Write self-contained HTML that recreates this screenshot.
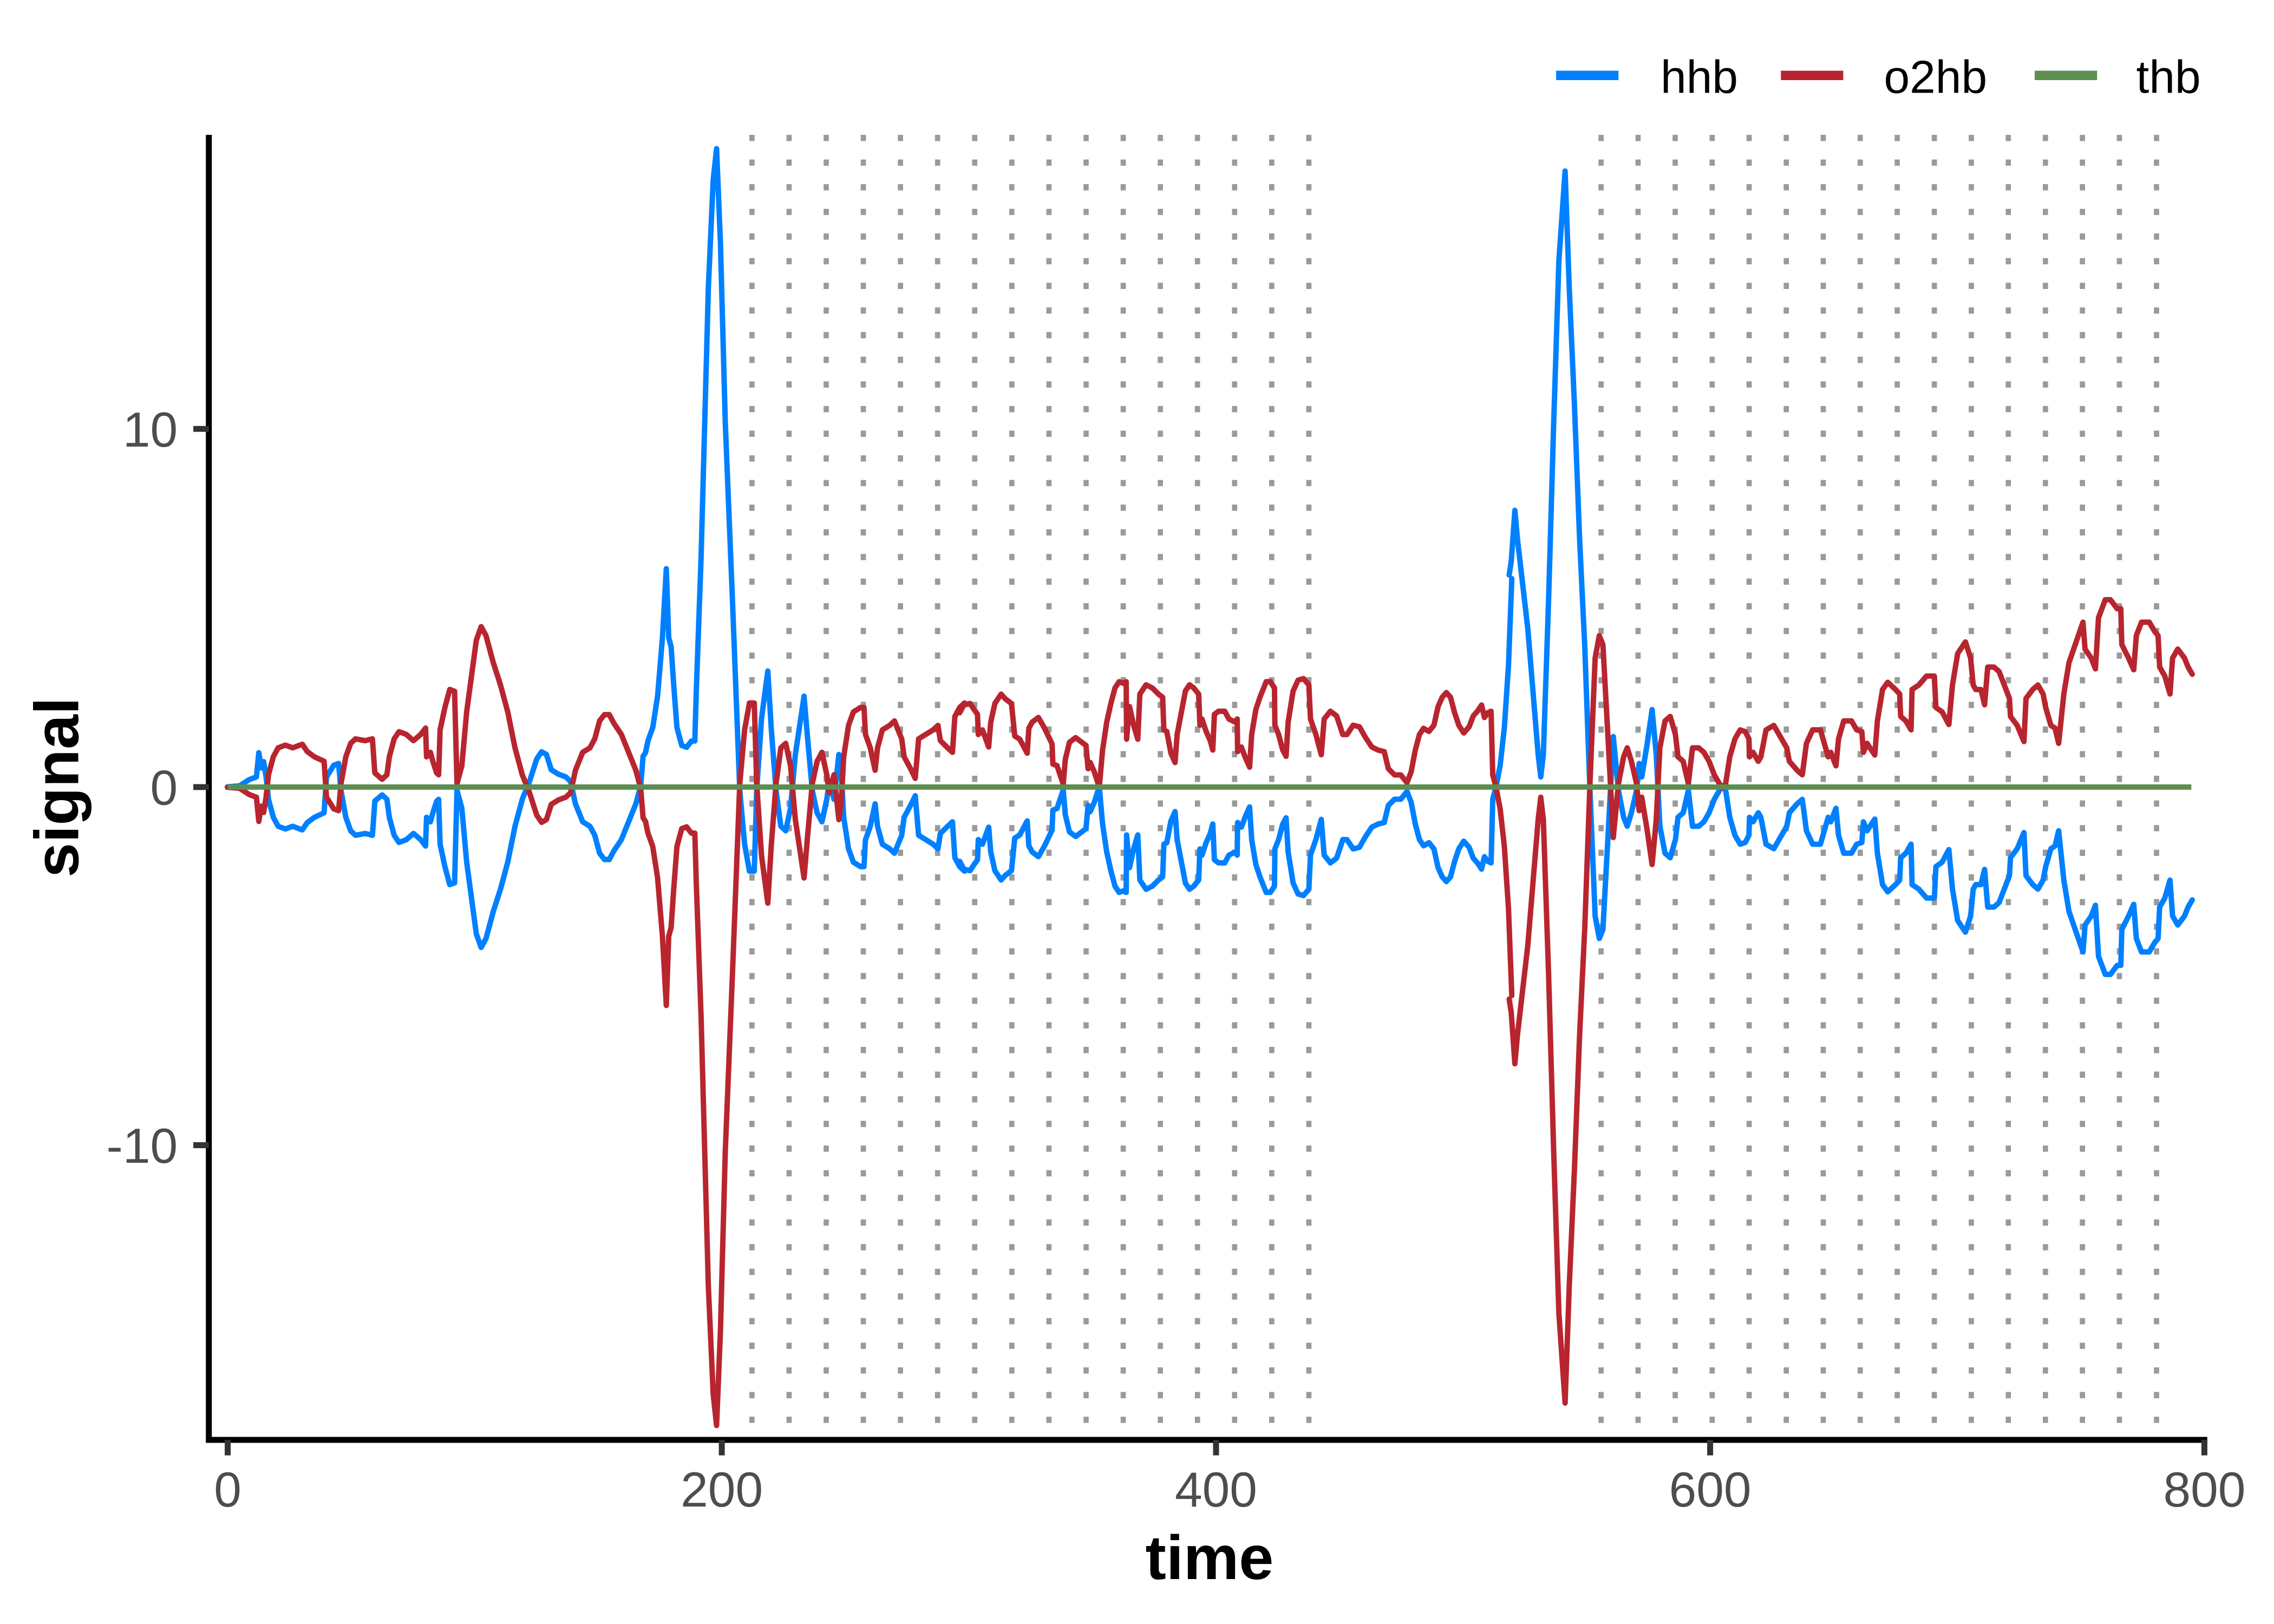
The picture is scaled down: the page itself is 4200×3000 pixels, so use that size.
<!DOCTYPE html>
<html><head><meta charset="utf-8"><style>
html,body{margin:0;padding:0;background:#fff;}
svg{display:block;}
text{font-family:"Liberation Sans",Arial,sans-serif;}
</style></head><body>
<svg xmlns="http://www.w3.org/2000/svg" xmlns:xlink="http://www.w3.org/1999/xlink" width="4200" height="3000" viewBox="0 0 1568 1120">
<rect width="1568" height="1120" fill="#fff"/>
<defs>
<g id="hhb" fill="none" stroke-linejoin="round" stroke-linecap="round">
<g transform="translate(141.8,74.65) scale(0.3333,0.619)">
<polyline vector-effect="non-scaling-stroke" points="45,756 70,755 90,748 105,745 110,718 115,735 120,728 125,745 130,770 140,790 150,800 165,803 180,800 200,804 210,796 225,790 245,785 250,745 265,732 275,730 280,760 290,790 300,805 310,810 330,808 345,810 350,772 365,765 375,770 380,790 390,810 400,818 415,815 430,808 445,815 455,822 457,790 465,795 470,785 478,772 482,770 485,820 495,845 505,865 515,863 520,760 530,780 540,840 550,880 560,920 570,935 580,925 595,895 610,870 625,840 640,800 655,770 670,750 685,725 695,717 705,720 715,737 730,742 745,745 755,750 765,775 780,795 795,800 805,810 815,830 825,837 835,837 845,827 860,815 875,795 890,775 900,755 905,722 910,718 915,705 925,690 935,655 945,590 953,513 958,590 963,600 968,640 975,690 985,710 995,712 1005,705 1012,705 1015,650 1025,500 1040,200 1050,80 1057,45 1065,150 1075,350 1090,550 1105,760 1115,820 1125,850 1135,850 1140,760 1150,680 1163,627 1170,690 1180,760 1190,800 1200,805 1210,780 1220,720 1238,655 1245,700 1255,760 1265,785 1275,795 1285,770 1290,750 1300,770 1310,720 1315,740 1320,790 1330,825 1340,840 1355,845 1362,845 1365,815 1375,800 1385,775 1390,800 1400,820 1415,825 1425,830 1440,810 1445,790 1460,775 1468,766 1475,810 1490,815 1505,820 1515,825 1520,808 1535,800 1545,795 1550,835 1560,845 1570,850"/>
</g>
<g transform="translate(634.6,373.3) scale(0.2856,0.2143)">
<polyline vector-effect="non-scaling-stroke" points="95,1030 105,1055 120,1060 130,1040 138,1025 140,960 150,975 165,920 170,1000 180,1060 195,1090 205,1075 220,1060 228,955 240,945 258,900 262,980 270,1000 285,1015 300,980 318,930 320,865 330,860 345,800 350,880 360,935 375,950 390,935 400,925 405,850 410,870 420,840 432,790 440,910 450,1000 460,1060 470,1110 480,1130 490,1125 497,1130 498,945 505,1050 515,990 525,945 530,1090 545,1120 560,1110 575,1090 585,1080 588,975 595,970 605,900 615,870 620,960 630,1030 640,1100 650,1120 660,1110 672,1090 675,990 680,1010 690,970 700,940 706,910 710,1025 720,1035 735,1035 745,1010 760,1000 765,1010 766,905 775,920 785,885 795,855 800,960 810,1040 820,1080 835,1130 845,1130 855,1110 856,990 865,960 875,910 883,890 888,1000 900,1100 912,1135 925,1140 938,1120 942,1010 955,960 968,895 975,1010 990,1035 1005,1020 1020,960 1030,960 1045,990 1060,985 1075,950 1090,920 1105,910 1120,905 1130,850 1145,830 1160,830 1175,805 1185,840 1195,910 1205,960 1215,980 1228,970 1240,990 1250,1050 1260,1080 1270,1095 1280,1080 1290,1030 1300,990 1312,965 1325,985 1335,1020 1345,1035 1355,1055 1362,1015 1370,1030 1378,1035 1382,830 1390,790 1400,720 1410,600 1420,400 1428,120"/>
</g>
<g transform="translate(989.2,74.65) scale(0.3571,0.619)">
<polyline vector-effect="non-scaling-stroke" points="144,520 148,505 155,448 160,480 170,530 180,580 190,650 200,720 205,745 210,720 220,550 230,350 240,170 252,70 260,200 270,330 280,480 290,600 300,760 310,900 318,925 325,915 335,810 345,700 355,760 365,790 372,800 380,785 390,760 395,730 400,745 410,710 420,670 428,720 435,800 445,830 455,835 465,815 470,790 480,785 490,760 498,800 510,800 520,795 530,785 540,770 555,755 562,760 570,790 580,810 590,820 600,818 607,810 608,790 615,795 625,785 630,790 640,820 655,825 665,815 680,800 685,785 700,775 710,770 718,805 730,820 745,820 755,800 760,790 765,795 775,780 780,810 790,830 805,830 815,820 825,818 828,795 835,805 850,792 855,830 865,865 875,873 890,865 898,860 900,835 910,830 920,820 922,865 935,870 950,880 965,880 968,845 980,840 993,826 1000,870 1010,905 1025,918 1035,900 1040,870 1045,865 1055,865 1062,848 1068,890 1080,890 1090,885 1100,870 1110,855 1112,835 1125,825 1138,807 1142,855 1155,865 1165,870 1175,860 1180,845 1190,825 1198,822 1205,805 1215,860 1225,895 1240,920 1252,940 1256,910 1268,900 1276,888 1282,945 1295,965 1305,965 1318,955 1325,955 1327,915 1340,900 1350,887 1355,925 1365,940 1380,940 1390,930 1397,925 1400,890 1410,880 1420,860 1425,900 1435,910 1448,900 1455,890 1463,882"/>
</g>
</g>
</defs>
<g stroke="#9a9a9a" stroke-width="3.6" stroke-dasharray="4.3 12.7">
<line x1="518.5" y1="93" x2="518.5" y2="991"/><line x1="544.1" y1="93" x2="544.1" y2="991"/><line x1="569.7" y1="93" x2="569.7" y2="991"/><line x1="595.3" y1="93" x2="595.3" y2="991"/><line x1="620.9" y1="93" x2="620.9" y2="991"/><line x1="646.5" y1="93" x2="646.5" y2="991"/><line x1="672.1" y1="93" x2="672.1" y2="991"/><line x1="697.7" y1="93" x2="697.7" y2="991"/><line x1="723.3" y1="93" x2="723.3" y2="991"/><line x1="748.9" y1="93" x2="748.9" y2="991"/><line x1="774.5" y1="93" x2="774.5" y2="991"/><line x1="800.1" y1="93" x2="800.1" y2="991"/><line x1="825.7" y1="93" x2="825.7" y2="991"/><line x1="851.3" y1="93" x2="851.3" y2="991"/><line x1="876.9" y1="93" x2="876.9" y2="991"/><line x1="902.5" y1="93" x2="902.5" y2="991"/>
<line x1="1104" y1="93" x2="1104" y2="991"/><line x1="1129.5" y1="93" x2="1129.5" y2="991"/><line x1="1155.1" y1="93" x2="1155.1" y2="991"/><line x1="1180.6" y1="93" x2="1180.6" y2="991"/><line x1="1206.1" y1="93" x2="1206.1" y2="991"/><line x1="1231.7" y1="93" x2="1231.7" y2="991"/><line x1="1257.2" y1="93" x2="1257.2" y2="991"/><line x1="1282.7" y1="93" x2="1282.7" y2="991"/><line x1="1308.2" y1="93" x2="1308.2" y2="991"/><line x1="1333.8" y1="93" x2="1333.8" y2="991"/><line x1="1359.3" y1="93" x2="1359.3" y2="991"/><line x1="1384.8" y1="93" x2="1384.8" y2="991"/><line x1="1410.4" y1="93" x2="1410.4" y2="991"/><line x1="1435.9" y1="93" x2="1435.9" y2="991"/><line x1="1461.4" y1="93" x2="1461.4" y2="991"/><line x1="1487" y1="93" x2="1487" y2="991"/>
</g>
<use xlink:href="#hhb" stroke="#0080FF" stroke-width="10"/>
<use xlink:href="#hhb" stroke="#B8252F" stroke-width="10" transform="translate(0,1085.6) scale(1,-1)"/>
<line x1="157" y1="542.8" x2="1511" y2="542.8" stroke="#5B8E51" stroke-width="3.7"/>
<line x1="144" y1="93" x2="144" y2="995" stroke="#000" stroke-width="4.1"/>
<line x1="142" y1="993" x2="1522" y2="993" stroke="#000" stroke-width="4.1"/>
<g stroke="#333" stroke-width="4.1">
<line x1="133.3" y1="295.8" x2="144" y2="295.8"/><line x1="133.3" y1="542.8" x2="144" y2="542.8"/><line x1="133.3" y1="789.8" x2="144" y2="789.8"/>
<line x1="157" y1="993" x2="157" y2="1003.7"/><line x1="497.7" y1="993" x2="497.7" y2="1003.7"/><line x1="838.5" y1="993" x2="838.5" y2="1003.7"/><line x1="1179.2" y1="993" x2="1179.2" y2="1003.7"/><line x1="1520" y1="993" x2="1520" y2="1003.7"/>
</g>
<g fill="#4D4D4D" font-size="34">
<text x="122.5" y="308" text-anchor="end">10</text>
<text x="122.5" y="555" text-anchor="end">0</text>
<text x="122.5" y="802" text-anchor="end">-10</text>
<text x="157" y="1039" text-anchor="middle">0</text>
<text x="497.7" y="1039" text-anchor="middle">200</text>
<text x="838.5" y="1039" text-anchor="middle">400</text>
<text x="1179.2" y="1039" text-anchor="middle">600</text>
<text x="1520" y="1039" text-anchor="middle">800</text>
</g>
<text x="834" y="1089" text-anchor="middle" font-size="43" font-weight="bold" fill="#000">time</text>
<text transform="translate(54,543) rotate(-90)" text-anchor="middle" font-size="43" font-weight="bold" fill="#000">signal</text>
<g stroke-width="6.5">
<line x1="1073" y1="52" x2="1116" y2="52" stroke="#0080FF"/>
<line x1="1228" y1="52" x2="1271" y2="52" stroke="#B8252F"/>
<line x1="1403" y1="52" x2="1446" y2="52" stroke="#5B8E51"/>
</g>
<g font-size="32" fill="#000">
<text x="1145" y="64">hhb</text>
<text x="1299" y="64">o2hb</text>
<text x="1473" y="64">thb</text>
</g>
</svg>
</body></html>
